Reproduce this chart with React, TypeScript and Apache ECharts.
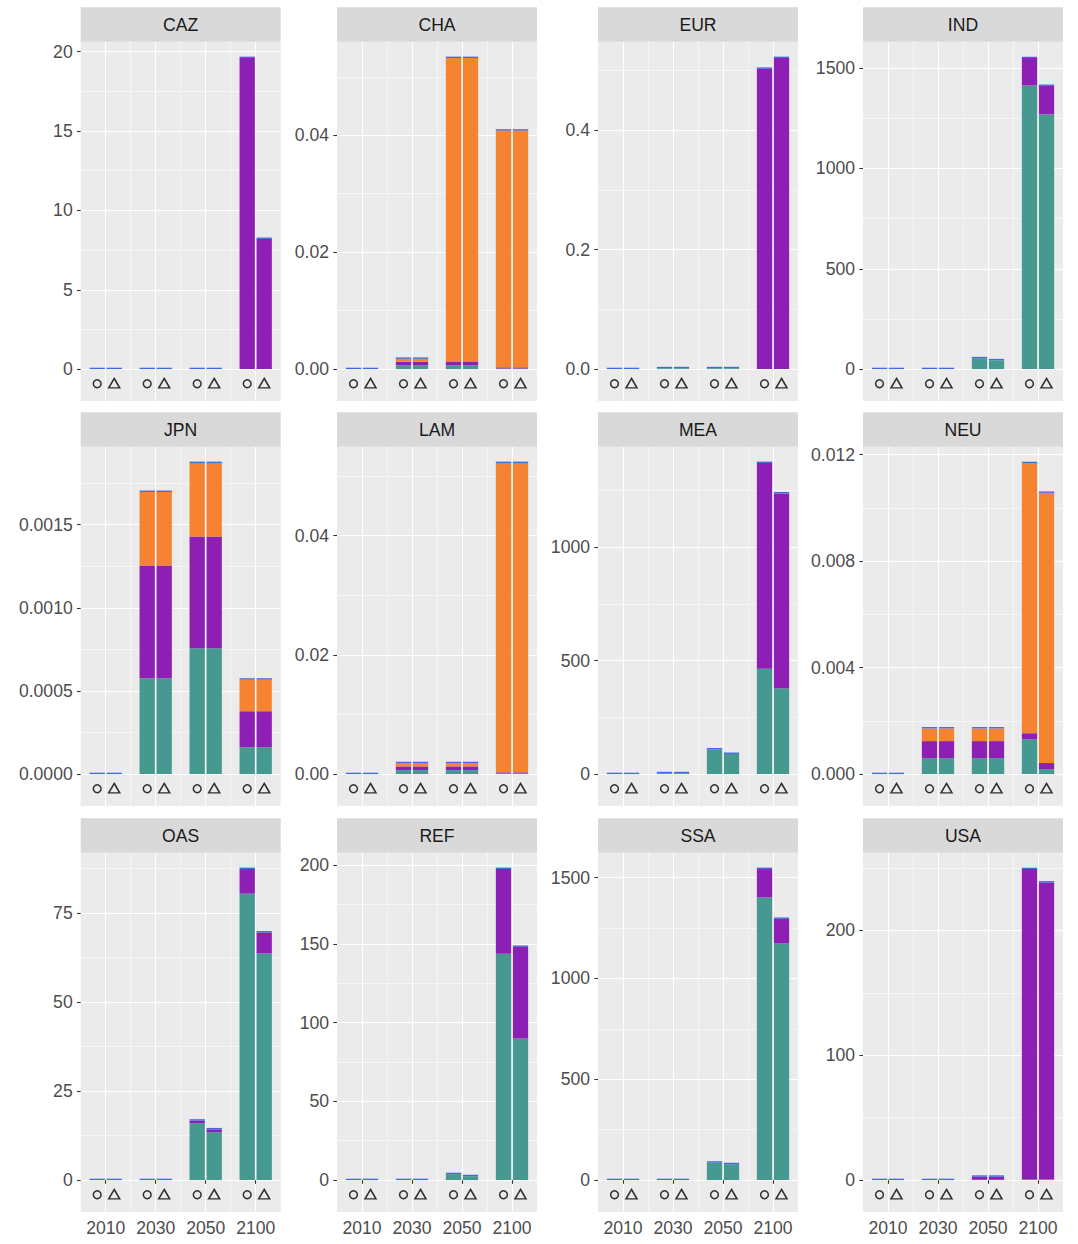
import React, { useEffect, useRef } from 'react';
import * as echarts from 'echarts';

// ---------- data ----------
const regions = ['CAZ', 'CHA', 'EUR', 'IND', 'JPN', 'LAM', 'MEA', 'NEU', 'OAS', 'REF', 'SSA', 'USA'];
const years = ['2010', '2030', '2050', '2100'];

// component 1 (teal), scenario "circle"
const tealCircle: number[][] = [
  [0, 0, 0, 0],
  [0, 0.00063, 0.00063, 0.0001],
  [0, 0.0015, 0.0015, 0],
  [0, 0, 54, 1413],
  [0, 0.000576, 0.000756, 0.000162],
  [0, 0.00067, 0.00067, 0.0001],
  [0, 4, 109, 465],
  [0, 0.0006, 0.0006, 0.00131],
  [0, 0, 16.0, 80.4],
  [0, 0, 3.8, 143.7],
  [0, 0, 86.6, 1401],
  [0, 0, 0.3, 0.8],
];
// component 1 (teal), scenario "triangle"
const tealTriangle: number[][] = [
  [0, 0, 0, 0],
  [0, 0.00063, 0.00063, 0.0001],
  [0, 0.0015, 0.0015, 0],
  [0, 0, 44, 1269],
  [0, 0.000576, 0.000756, 0.000162],
  [0, 0.00067, 0.00067, 0.0001],
  [0, 4, 89, 379],
  [0, 0.0006, 0.0006, 0.00019],
  [0, 0, 13.45, 63.6],
  [0, 0, 2.5, 89.9],
  [0, 0, 79, 1173],
  [0, 0, 0.3, 0.8],
];
// component 2 (purple)
const purpleCircle: number[][] = [
  [0, 0, 0, 19.6],
  [0, 0.00063, 0.00068, 0.0002],
  [0, 0, 0, 0.503],
  [0, 0, 0, 137],
  [0, 0.000678, 0.000672, 0.000216],
  [0, 0.00062, 0.00062, 0.0002],
  [0, 0, 0, 907],
  [0, 0.00064, 0.00064, 0.000225],
  [0, 0, 0.7, 6.9],
  [0, 0, 0, 53.8],
  [0, 0, 0, 141],
  [0, 0, 2.4, 248.4],
];
const purpleTriangle: number[][] = [
  [0, 0, 0, 8.2],
  [0, 0.00063, 0.00068, 0.0002],
  [0, 0, 0, 0.521],
  [0, 0, 0, 142],
  [0, 0.000678, 0.000672, 0.000216],
  [0, 0.00062, 0.00062, 0.0002],
  [0, 0, 0, 859],
  [0, 0.00064, 0.00064, 0.000225],
  [0, 0, 0.8, 5.9],
  [0, 0, 0, 58.2],
  [0, 0, 0, 122],
  [0, 0, 2.4, 237.6],
];
// component 3 (orange)
const orangeCircle: number[][] = [
  [0, 0, 0, 0],
  [0, 0.0005, 0.0519, 0.0405],
  [0, 0, 0, 0],
  [0, 0, 0, 0],
  [0, 0.000442, 0.000442, 0.00019],
  [0, 0.00055, 0.00055, 0.0519],
  [0, 0, 0, 0],
  [0, 0.000475, 0.000475, 0.01015],
  [0, 0, 0, 0],
  [0, 0, 0, 0],
  [0, 0, 0, 0],
  [0, 0, 0, 0],
];
const orangeTriangle: number[][] = [
  [0, 0, 0, 0],
  [0, 0.0005, 0.0519, 0.0405],
  [0, 0, 0, 0],
  [0, 0, 0, 0],
  [0, 0.000442, 0.000442, 0.00019],
  [0, 0.00055, 0.00055, 0.0519],
  [0, 0, 0, 0],
  [0, 0.000475, 0.000475, 0.01015],
  [0, 0, 0, 0],
  [0, 0, 0, 0],
  [0, 0, 0, 0],
  [0, 0, 0, 0],
];
// component 4 (blue) – negligible everywhere, visible only as its outline
const blueCircle: number[][] = regions.map(() => [0, 0, 0, 0]);
const blueTriangle: number[][] = regions.map(() => [0, 0, 0, 0]);

// y-axis tick labels per panel
const majorTicks: number[][] = [
  [0, 5, 10, 15, 20],
  [0, 0.02, 0.04],
  [0, 0.2, 0.4],
  [0, 500, 1000, 1500],
  [0, 0.0005, 0.001, 0.0015],
  [0, 0.02, 0.04],
  [0, 500, 1000],
  [0, 0.004, 0.008, 0.012],
  [0, 25, 50, 75],
  [0, 50, 100, 150, 200],
  [0, 500, 1000, 1500],
  [0, 100, 200],
];
const minorTicks: number[][] = [
  [2.5, 7.5, 12.5, 17.5],
  [0.01, 0.03, 0.05],
  [0.1, 0.3, 0.5],
  [250, 750, 1250],
  [0.00025, 0.00075, 0.00125, 0.00175],
  [0.01, 0.03, 0.05],
  [250, 750, 1250],
  [0.002, 0.006, 0.01],
  [12.5, 37.5, 62.5, 87.5],
  [25, 75, 125, 175],
  [250, 750, 1250],
  [50, 150, 250],
];
const tickDecimals = [0, 2, 1, 0, 4, 2, 0, 3, 0, 0, 0, 0];

// ---------- style / layout ----------
const compColors = ['#469990', '#8E1FB5', '#F58331', '#4169E1'];
const FONT = 'Liberation Sans, Arial, Helvetica, sans-serif';
const colLeft = [80.7, 337, 598, 863];
const rowTop = [41.7, 446.7, 852.7];
const panelW = 200;
const panelH = 359.3;
const stripH = 34.4;
const barW = 15.3;
const barGapPx = 1.7;

function buildOption() {
  const grid: any[] = [];
  const xAxis: any[] = [];
  const yAxis: any[] = [];
  const series: any[] = [];
  const graphic: any[] = [];
  const scen = [
    [tealCircle, purpleCircle, orangeCircle, blueCircle],
    [tealTriangle, purpleTriangle, orangeTriangle, blueTriangle],
  ];

  regions.forEach((reg, i) => {
    const r = Math.floor(i / 4);
    const c = i % 4;
    const left = colLeft[c];
    const top = rowTop[r];
    const bottomRow = r === 2;

    let M = 0;
    for (const comps of scen) {
      for (let y = 0; y < years.length; y++) {
        let s = 0;
        for (const comp of comps) s += comp[i][y];
        if (s > M) M = s;
      }
    }
    const mkLevel = -0.05 * M;
    const span = M - mkLevel;
    const yMin = mkLevel - 0.05 * span;
    const yMax = M + 0.05 * span;
    const markerY = -0.047 * M;

    grid.push({
      left, top, width: panelW, height: panelH,
      show: true, backgroundColor: '#EBEBEB', borderWidth: 0, containLabel: false,
    });

    // category axis (bars, labels)
    xAxis.push({
      type: 'category', gridIndex: i, data: years,
      axisLine: { show: false },
      axisTick: { show: bottomRow, alignWithLabel: true, interval: 0, length: 3.7, lineStyle: { color: '#333333', width: 1.07 } },
      axisLabel: { show: bottomRow, interval: 0, color: '#4D4D4D', fontSize: 17.6, fontFamily: FONT, margin: 7 },
      splitLine: { show: false },
    });
    // major vertical grid lines at category centres
    xAxis.push({
      type: 'value', gridIndex: i, min: 0, max: 4,
      axisLine: { show: false },
      axisTick: { show: false, customValues: [0.5, 1.5, 2.5, 3.5] },
      axisLabel: { show: false, customValues: [0.5, 1.5, 2.5, 3.5] },
      splitLine: { show: true, lineStyle: { color: '#FFFFFF', width: 1.07 } },
    });
    // minor vertical grid lines between categories
    xAxis.push({
      type: 'value', gridIndex: i, min: 0, max: 4,
      axisLine: { show: false },
      axisTick: { show: false, customValues: [1, 2, 3] },
      axisLabel: { show: false, customValues: [1, 2, 3] },
      splitLine: { show: true, lineStyle: { color: '#FFFFFF', width: 0.53 } },
    });

    const dec = tickDecimals[i];
    yAxis.push({
      type: 'value', gridIndex: i, min: yMin, max: yMax,
      axisLine: { show: false },
      axisTick: { show: true, customValues: majorTicks[i], length: 3.7, lineStyle: { color: '#333333', width: 1.07 } },
      axisLabel: {
        customValues: majorTicks[i], color: '#4D4D4D', fontSize: 17.6, fontFamily: FONT, margin: 8,
        formatter: (v: number) => v.toFixed(dec),
      },
      splitLine: { show: true, lineStyle: { color: '#FFFFFF', width: 1.07 } },
    });
    yAxis.push({
      type: 'value', gridIndex: i, min: yMin, max: yMax,
      axisLine: { show: false },
      axisTick: { show: false, customValues: minorTicks[i] },
      axisLabel: { show: false, customValues: minorTicks[i] },
      splitLine: { show: true, lineStyle: { color: '#FFFFFF', width: 0.53 } },
    });

    scen.forEach((comps, s) => {
      comps.forEach((comp, k) => {
        series.push({
          type: 'bar', name: `${reg}-${s}-${k}`,
          xAxisIndex: 3 * i, yAxisIndex: 2 * i,
          stack: `p${i}s${s}`, stackStrategy: 'all',
          data: comp[i],
          barWidth: barW, barGap: `${(barGapPx / barW) * 100}%`,
          barMinHeight: k === 3 ? 1.4 : 0,
          itemStyle: { color: compColors[k] },
          silent: true,
        });
      });
    });

    const off = (barW + barGapPx) / 2;
    series.push({
      type: 'scatter', xAxisIndex: 3 * i, yAxisIndex: 2 * i,
      data: years.map(() => markerY),
      symbol: 'circle', symbolSize: 7.8, symbolOffset: [-off, 0],
      itemStyle: { color: 'rgba(0,0,0,0)', borderColor: '#000000', borderWidth: 1.5 },
      silent: true, z: 3,
    });
    series.push({
      type: 'scatter', xAxisIndex: 3 * i, yAxisIndex: 2 * i,
      data: years.map(() => markerY),
      symbol: 'triangle', symbolSize: [11, 9.4], symbolOffset: [off, -0.6],
      itemStyle: { color: 'rgba(0,0,0,0)', borderColor: '#000000', borderWidth: 1.5 },
      silent: true, z: 3,
    });

    graphic.push({
      type: 'rect', left, top: top - stripH, silent: true,
      shape: { x: 0, y: 0, width: panelW, height: stripH },
      style: { fill: '#D9D9D9' },
    });
    graphic.push({
      type: 'text', x: left + panelW / 2, y: top - stripH / 2, silent: true,
      style: {
        text: reg, fill: '#1A1A1A', fontSize: 17.6, fontFamily: FONT,
        textAlign: 'center', textVerticalAlign: 'middle', align: 'center', verticalAlign: 'middle',
      },
    });
  });

  return {
    animation: false,
    backgroundColor: '#FFFFFF',
    textStyle: { fontFamily: FONT },
    grid, xAxis, yAxis, series, graphic,
  };
}

export default function App() {
  const ref = useRef<HTMLDivElement>(null);
  useEffect(() => {
    if (!ref.current) return;
    const chart = echarts.init(ref.current, undefined, { renderer: 'svg' });
    chart.setOption(buildOption() as any);
    return () => chart.dispose();
  }, []);
  return (
    <div
      ref={ref}
      style={{ position: 'absolute', left: 0, top: 0, width: 1078, height: 1244 }}
    />
  );
}
